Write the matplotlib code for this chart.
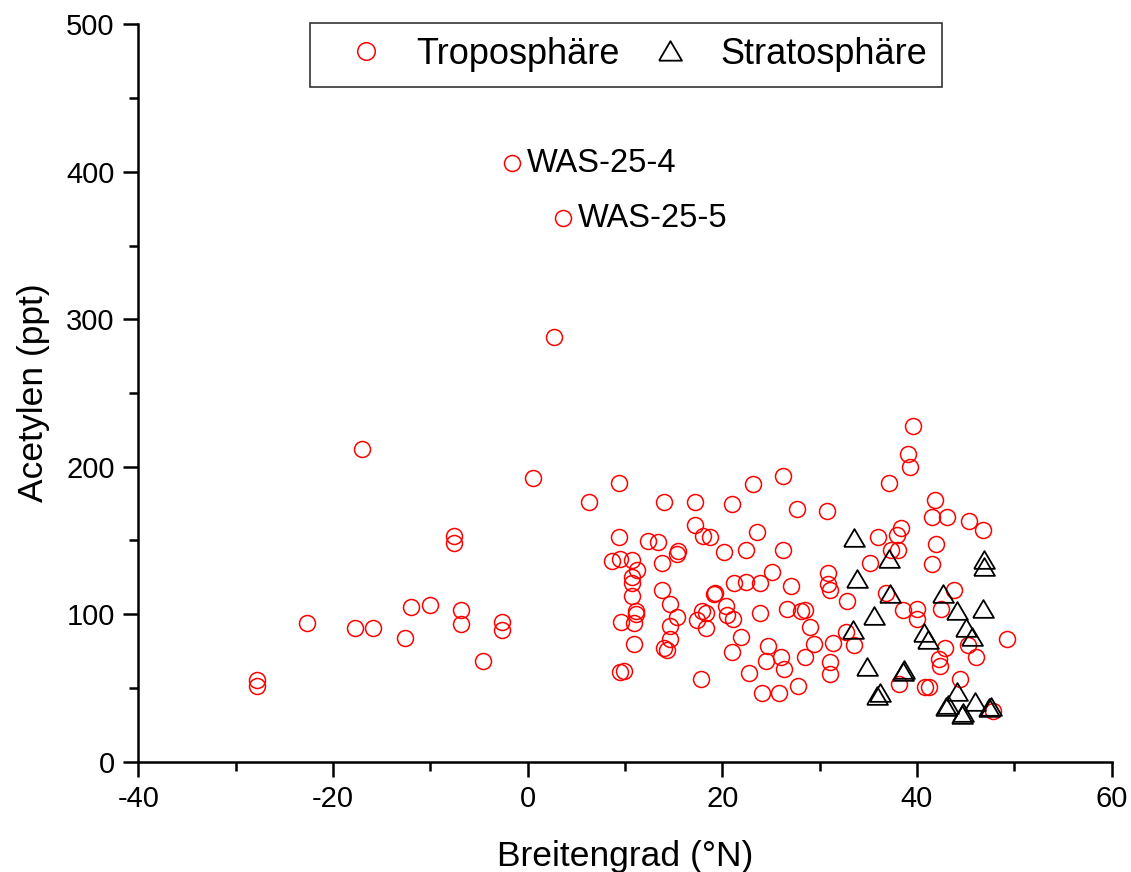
import matplotlib.pyplot as plt
from matplotlib.ticker import MultipleLocator

plt.rcParams['font.family'] = ['Liberation Sans', 'DejaVu Sans']
plt.rcParams['axes.unicode_minus'] = False

# Troposphäre samples: latitude (°N) and acetylene (ppt)
tropo_lat = [-27.8, -27.8, -22.7, -17.7, -15.9, -17.0, -12.6, -12.0, -10.0, -7.6,
             -7.6, -6.8, -6.8, -4.6, -2.6, -2.6, -1.6, 3.6, 2.7, 0.6,
             6.3, 9.4, 14.0, 17.2, 21.0, 23.2, 26.2, 27.7, 30.8, 9.4,
             12.4, 13.4, 17.2, 18.0, 18.7, 23.6, 15.5, 15.3, 20.2, 22.4,
             26.2, 8.7, 9.5, 10.7, 11.2, 13.8, 10.7, 10.7, 10.7, 13.8,
             14.6, 15.3, 14.6, 14.6, 14.0, 14.3, 11.1, 11.1, 10.9, 9.6,
             10.9, 9.5, 9.9, 17.8, 19.3, 19.2, 20.4, 20.5, 21.1, 17.9,
             18.3, 17.4, 18.3, 21.2, 22.4, 23.9, 25.1, 27.1, 23.9, 26.7,
             28.1, 28.5, 29.0, 21.9, 21.0, 24.7, 24.5, 26.0, 26.3, 22.7,
             28.5, 29.4, 24.1, 25.8, 27.8, 30.9, 30.9, 31.1, 31.4, 31.1,
             31.1, 39.6, 39.1, 39.3, 37.1, 41.9, 41.5, 43.1, 45.4, 46.8,
             38.4, 38.0, 36.0, 42.0, 38.1, 37.3, 41.5, 35.2, 32.8, 36.8,
             43.8, 38.6, 40.0, 40.0, 42.5, 33.5, 32.7, 42.9, 42.3, 42.4,
             45.3, 46.1, 49.3, 44.4, 38.2, 40.8, 41.2, 47.8]
tropo_c2h2 = [55.4, 51.3, 94.3, 90.8, 90.8, 212.2, 84.0, 104.8, 106.0, 153.0,
              148.2, 102.9, 93.4, 68.3, 94.4, 89.3, 405.9, 368.6, 288.0, 192.5,
              176.1, 189.2, 176.0, 176.0, 174.5, 188.0, 193.7, 171.3, 170.2, 152.6,
              149.6, 149.2, 160.5, 153.2, 152.6, 156.0, 143.1, 140.6, 142.0, 143.3,
              143.3, 136.3, 137.4, 136.5, 130.2, 134.5, 125.4, 121.0, 112.4, 116.4,
              107.1, 98.3, 92.2, 83.2, 77.1, 75.7, 102.4, 100.1, 93.8, 94.5,
              79.6, 60.6, 61.7, 56.3, 114.2, 113.5, 105.8, 99.3, 96.5, 102.4,
              101.0, 96.1, 90.4, 121.4, 121.6, 121.0, 128.8, 119.3, 101.0, 103.7,
              102.0, 103.1, 91.5, 84.3, 74.2, 78.7, 68.5, 70.8, 63.1, 60.1,
              71.2, 79.6, 46.8, 46.8, 51.3, 128.2, 120.3, 116.4, 80.3, 67.4,
              59.5, 227.6, 208.6, 199.6, 188.8, 177.7, 165.7, 165.9, 163.4, 157.1,
              158.5, 153.9, 152.2, 147.6, 143.3, 143.3, 134.0, 135.0, 109.0, 114.2,
              116.2, 102.9, 103.5, 97.0, 103.7, 79.3, 87.7, 77.1, 69.7, 65.1,
              79.1, 70.8, 83.0, 55.9, 52.7, 50.4, 50.4, 34.4]

# Stratosphäre samples
strato_lat = [33.5, 37.1, 33.8, 46.9, 46.9, 37.2, 42.7, 44.1, 46.8, 35.6,
              45.0, 45.7, 40.7, 41.1, 33.4, 34.9, 38.7, 38.6, 36.2, 35.9,
              44.1, 43.2, 43.0, 46.0, 44.7, 44.6, 47.6, 47.4]
strato_c2h2 = [151.5, 137.2, 123.9, 136.8, 132.2, 113.5, 113.9, 102.4, 103.3, 98.8,
               90.9, 84.8, 87.5, 82.7, 89.3, 64.0, 62.2, 60.6, 46.4, 44.5,
               47.5, 38.4, 37.0, 40.7, 32.8, 31.7, 37.3, 36.2]

# labelled outliers
labels = ['WAS-25-4', 'WAS-25-5']
label_lat = [-1.6, 3.6]
label_c2h2 = [405.9, 368.6]

fig = plt.figure(figsize=(11.31, 8.72), dpi=100)
ax = fig.add_axes([0.1223, 0.1265, 0.8605, 0.8456])

tri = [(-1, -0.8), (1, -0.8), (0, 0.9), (-1, -0.8)]

ax.plot(tropo_lat, tropo_c2h2, linestyle='none', marker='o', ms=11.5,
        mfc='none', mec='red', mew=1.1, label='Troposphäre')
ax.plot(strato_lat, strato_c2h2, linestyle='none', marker=tri, ms=15,
        mfc='none', mec='black', mew=1.3, label='Stratosphäre')

for txt, lx, ly in zip(labels, label_lat, label_c2h2):
    ax.annotate(txt, (lx, ly), xytext=(11, 0), textcoords='offset points',
                ha='left', va='center', fontsize=23.5)

ax.set_xlim(-40, 60)
ax.set_ylim(0, 500)
ax.xaxis.set_major_locator(MultipleLocator(20))
ax.xaxis.set_minor_locator(MultipleLocator(10))
ax.yaxis.set_major_locator(MultipleLocator(100))
ax.yaxis.set_minor_locator(MultipleLocator(50))

for s in ['top', 'right']:
    ax.spines[s].set_visible(False)
for s in ['left', 'bottom']:
    ax.spines[s].set_linewidth(1.8)

ax.tick_params(which='major', direction='out', length=11, width=1.8,
               labelsize=21, pad=6)
ax.tick_params(which='minor', direction='out', length=6.5, width=1.8)

ax.set_xlabel('Breitengrad (°N)', fontsize=25.5, labelpad=19)
ax.set_ylabel('Acetylen (ppt)', fontsize=25.5, labelpad=12)

leg = ax.legend(loc='center', bbox_to_anchor=(0.501, 0.959), ncol=2,
                fontsize=26, frameon=True, fancybox=False, edgecolor='black',
                handlelength=2.3, handletextpad=0.25, columnspacing=0.25,
                borderpad=0.4, markerscale=1.1)
leg.get_frame().set_linewidth(1.2)

fig.savefig('out.png', dpi=100)
